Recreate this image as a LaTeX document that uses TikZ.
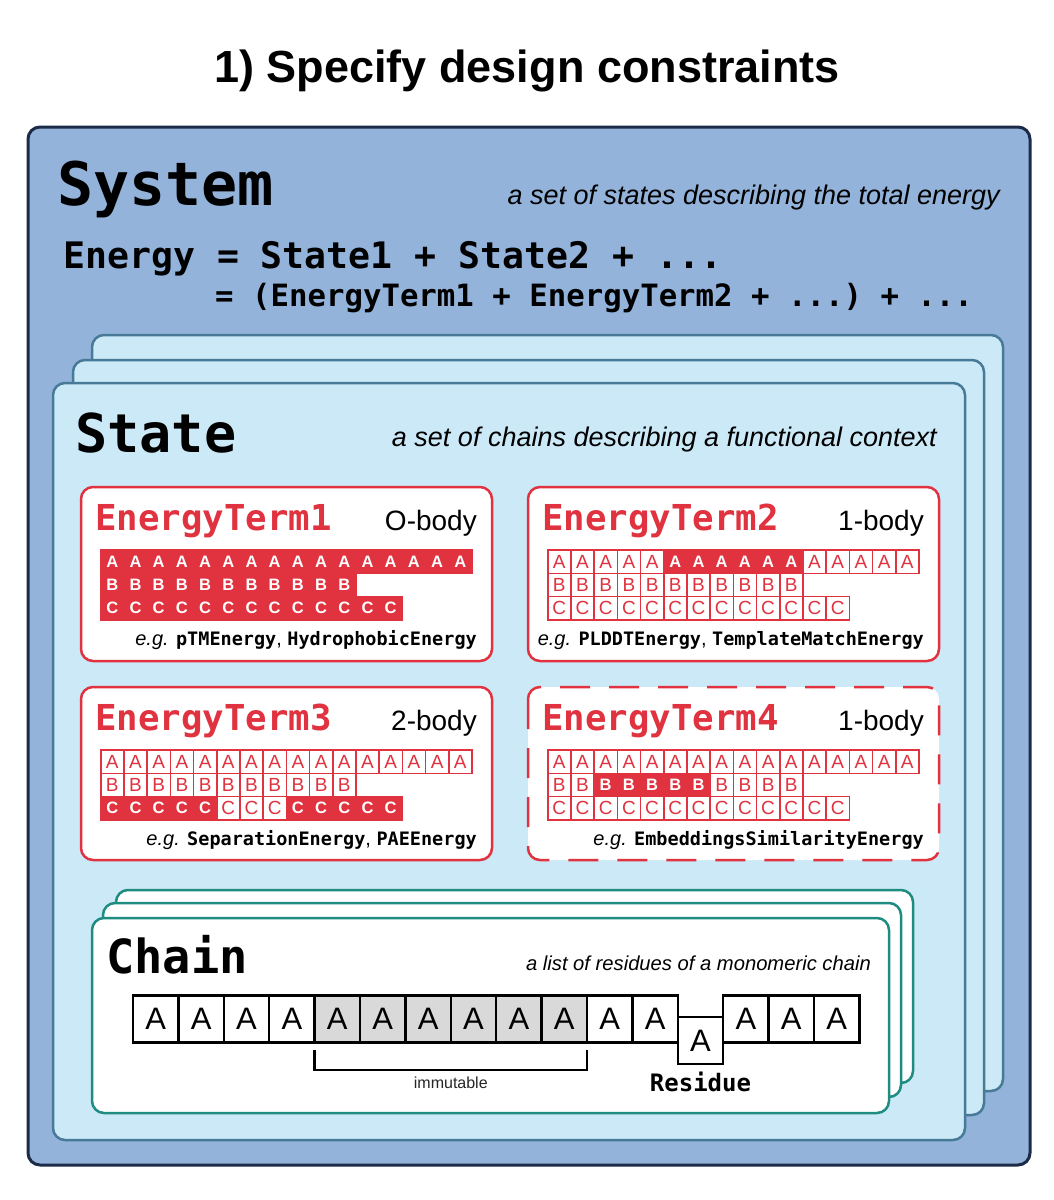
\documentclass[tikz,border=0pt]{standalone}
\usepackage{fontspec}
\setmainfont{Liberation Sans}
\setmonofont{DejaVu Sans Mono}
\usetikzlibrary{positioning}

\definecolor{sysfill}{HTML}{93B3DB}
\definecolor{sysline}{HTML}{1C2B47}
\definecolor{statefill}{HTML}{CCE9F8}
\definecolor{stateline}{HTML}{477A97}
\definecolor{termred}{HTML}{E0323F}
\definecolor{chainline}{HTML}{1E8C80}
\definecolor{fixedgray}{HTML}{D9D9D9}

\tikzset{
  sysbox/.style={draw=sysline, fill=sysfill, line width=3pt, rounded corners=12pt},
  statebox/.style={draw=stateline, fill=statefill, line width=2.5pt, rounded corners=12pt},
  termbox/.style={draw=termred, fill=white, line width=2.5pt, rounded corners=12pt},
  chainbox/.style={draw=chainline, fill=white, line width=2.5pt, rounded corners=12pt},
  bigname/.style={anchor=base west, inner sep=0pt, font=\fontsize{#1}{#1}\selectfont\ttfamily\bfseries},
  note/.style={anchor=base east, inner sep=0pt, font=\fontsize{#1}{#1}\selectfont\itshape},
  termname/.style={anchor=base west, inner sep=0pt, text=termred, font=\fontsize{35.7}{36}\selectfont\ttfamily\bfseries},
  bodycount/.style={anchor=base east, inner sep=0pt, font=\fontsize{28}{28}\selectfont},
  examples/.style={anchor=base east, inner sep=0pt, font=\fontsize{20}{20}\selectfont},
  opencell/.style={draw=termred, fill=white, line width=1.6pt, minimum width=23.2pt, minimum height=23.3pt,
    inner sep=0pt, outer sep=0pt, text=termred, font=\fontsize{19}{19}\selectfont},
  fullcell/.style={opencell, fill=termred, text=white, font=\fontsize{16.5}{17}\selectfont\bfseries},
  rescell/.style={draw=black, fill=white, line width=2.5pt, minimum width=45.4pt, minimum height=47pt,
    inner sep=0pt, outer sep=0pt, font=\fontsize{31}{31}\selectfont},
}

\newcommand{\exname}[1]{{\fontsize{18.5}{19}\selectfont\ttfamily\bfseries #1}}

% one row of an energy term: name, x, y, letter, cells, filled test
\newcommand{\termrow}[6]{%
  \foreach \i in {1,...,#5}{
    \pgfmathtruncatemacro{\isfull}{#6}
    \ifnum\isfull=1
      \node[fullcell] (#1-\i) at ({#2+(\i-0.5)*23.2},{#3+11.65}) {#4};
    \else
      \node[opencell] (#1-\i) at ({#2+(\i-0.5)*23.2},{#3+11.65}) {#4};
    \fi
  }}

% title, body count and examples of an energy term box
\newcommand{\termlabels}[5]{%
  \node[termname] (term#3) at ({#1+14},{#2+43}) {EnergyTerm#3};
  \node[bodycount] (body#3) at ({#1+396},{#2+43}) {#4};
  \node[examples] (eg#3) at ({#1+396},{#2+158}) {\textit{e.g.} #5};
}

\begin{document}
\begin{tikzpicture}[x=1pt, y=-1pt]
  \useasboundingbox (0,0) rectangle (1054,1200);
  \fill[white] (0,0) rectangle (1054,1200);

  \node[anchor=base, inner sep=0pt, font=\fontsize{45}{45}\selectfont\bfseries] (title) at (527,82)
    {1) Specify design constraints};

  % system
  \draw[sysbox] (28,127) rectangle (1030,1165);
  \node[bigname=60] (system) at (57,205) {System};
  \node[note=27] (systemnote) at (1000,204) {a set of states describing the total energy};
  \node[bigname=36.5] (sumstates) at (63,268) {Energy = State1 + State2 + ...};
  \node[bigname=30.7] (sumterms) at (215,306) {= (EnergyTerm1 + EnergyTerm2 + ...) + ...};

  % states
  \draw[statebox] (92,335) rectangle (1003,1091);
  \draw[statebox] (73,360) rectangle (984,1115);
  \draw[statebox] (53,383) rectangle (965,1140);
  \node[bigname=53.5] (state) at (75,452) {State};
  \node[note=27] (statenote) at (937,446) {a set of chains describing a functional context};

  % energy terms
  \draw[termbox] (81,487) rectangle (492,661);
  \draw[termbox] (528,487) rectangle (939,661);
  \draw[termbox] (81,687) rectangle (492,860);
  \draw[termbox, dash pattern=on 30pt off 19pt] (528,687) rectangle (939,860);

  \termlabels{81}{487}{1}{O-body}{\exname{pTMEnergy}, \exname{HydrophobicEnergy}}
  \termlabels{528}{487}{2}{1-body}{\exname{PLDDTEnergy}, \exname{TemplateMatchEnergy}}
  \termlabels{81}{687}{3}{2-body}{\exname{SeparationEnergy}, \exname{PAEEnergy}}
  \termlabels{528}{687}{4}{1-body}{\exname{EmbeddingsSimilarityEnergy}}

  \termrow{oa}{100.7}{550}{A}{16}{1}
  \termrow{ob}{100.7}{573.3}{B}{11}{1}
  \termrow{oc}{100.7}{596.6}{C}{13}{1}

  \termrow{pa}{547.7}{550}{A}{16}{and(\i>5,\i<12)}
  \termrow{pb}{547.7}{573.3}{B}{11}{0}
  \termrow{pc}{547.7}{596.6}{C}{13}{0}

  \termrow{sa}{100.7}{750}{A}{16}{0}
  \termrow{sb}{100.7}{773.3}{B}{11}{0}
  \termrow{sc}{100.7}{796.6}{C}{13}{or(\i<6,\i>8)}

  \termrow{ea}{547.7}{750}{A}{16}{0}
  \termrow{eb}{547.7}{773.3}{B}{11}{and(\i>2,\i<8)}
  \termrow{ec}{547.7}{796.6}{C}{13}{0}

  % chains
  \draw[chainbox] (116,890) rectangle (913,1083);
  \draw[chainbox] (103,903) rectangle (901,1097);
  \draw[chainbox] (92,918) rectangle (889,1113);
  \node[bigname=47] (chain) at (106,973) {Chain};
  \node[note=20.2] (chainnote) at (871,970) {a list of residues of a monomeric chain};

  \foreach \i in {0,...,15}{
    \pgfmathsetmacro{\resx}{133+45.4*(\i+0.5)}
    \pgfmathtruncatemacro{\isfixed}{and(\i>3,\i<10)}
    \ifnum\i=12 \def\resy{1040.5}\else \def\resy{1019}\fi
    \ifnum\isfixed=1
      \node[rescell, fill=fixedgray] (res\i) at (\resx,\resy) {A};
    \else
      \node[rescell] (res\i) at (\resx,\resy) {A};
    \fi
  }

  \draw[line width=2.5pt] ([yshift=-7.5pt]res4.south west) -- ([yshift=-27.5pt]res4.south west)
    -- ([yshift=-27.5pt]res9.south east) -- ([yshift=-7.5pt]res9.south east);
  \path ([yshift=-27.5pt]res4.south west) -- ([yshift=-27.5pt]res9.south east)
    node[midway, below=7pt, inner sep=0pt, text=black!85, font=\fontsize{16}{16}\selectfont] (fixedlabel) {immutable};
  \node[below=8pt of res12, inner sep=0pt, font=\fontsize{24}{24}\selectfont\ttfamily\bfseries] (residue) {Residue};
\end{tikzpicture}
\end{document}
